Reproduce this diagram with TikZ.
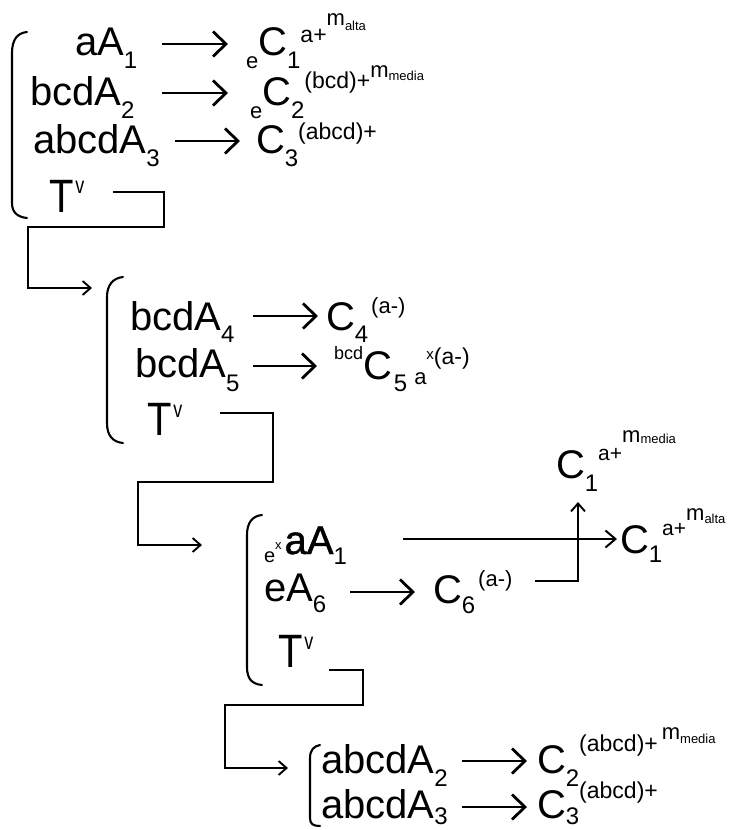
\documentclass[tikz,border=0pt]{standalone}
\usepackage{fontspec}
\usepackage{graphicx}
\setmainfont{Liberation Sans}
\newfontface\fbold[FakeBold=1.2]{Liberation Sans}
\usetikzlibrary{arrows.meta}
\newcommand{\rs}[3]{\raisebox{#1pt}{\fontsize{#2pt}{#2pt}\selectfont #3}}
\newcommand{\tallT}{\scalebox{1}[1.17]{T}}
\newcommand{\tallv}[1]{\raisebox{#1pt}{\fontsize{18pt}{18pt}\selectfont\scalebox{1}[1.3]{v}}}
\tikzset{
  txt/.style={inner sep=0pt, outer sep=0pt, anchor=base west, font=\fontsize{40pt}{40pt}\selectfont},
  bigarr/.style={line width=2.8pt, -{Straight Barb[length=13pt,width=25pt]}},
  thinarr/.style={line width=2pt, -{Straight Barb[length=10pt,width=17pt]}},
  connarr/.style={line width=1.9pt, -{Straight Barb[length=8pt,width=14pt]}},
  brack/.style={line width=2.1pt, line cap=round}
}
\begin{document}
\begin{tikzpicture}[x=1pt,y=-1pt]
\useasboundingbox (0,0) rectangle (729,830);
% ---------- block 1
\draw[brack] (27,32) .. controls (17,33) and (12,40) .. (12,53) -- (12,203) .. controls (12,212) and (17,217) .. (27,218);
\node[txt] (a1) at (75,55) {aA\rs{-13}{24}{1}};
\node[txt] (c1) at (246,55) {\rs{-13}{22}{e}C\rs{-13}{24}{1}\rs{13}{23}{a+}\rs{30}{22}{m}\rs{25}{13}{alta}};
\node[txt] (a2) at (30,105) {bcdA\rs{-13}{24}{2}};
\node[txt] (c2) at (250,105) {\rs{-13}{22}{e}C\rs{-13}{24}{2}\rs{17}{23}{(bcd)+}\rs{28}{22}{m}\rs{25}{13}{media}};
\node[txt] (a3) at (33,153) {abcdA\rs{-13}{24}{3}};
\node[txt] (c3) at (256,153) {C\rs{-13}{24}{3}\rs{14}{23}{(abcd)+}};
\node[txt] (t1) at (49,212) {\tallT\kern2pt\tallv{19}};
\draw[bigarr] ([shift={(87,-11)}]a1.base west) -- ([shift={(-18,-11)}]c1.base west);
\draw[bigarr] ([shift={(132,-12)}]a2.base west) -- ([shift={(-22,-12)}]c2.base west);
\draw[bigarr] ([shift={(142,-12)}]a3.base west) -- ([shift={(-16,-12)}]c3.base west);
\coordinate (in2) at (92,288);
\draw[connarr] ([shift={(64,-20)}]t1.base west) -- ++(51,0) -- ++(0,35) -- ++(-136,0) -- ++(0,61) -- (in2);
% ---------- block 2
\draw[brack] (123,277) .. controls (113,278) and (107,285) .. (107,297) -- (107,423) .. controls (107,436) and (113,442) .. (123,443);
\node[txt] (a4) at (130,330) {bcdA\rs{-12}{24}{4}};
\node[txt] (c4) at (326,330) {C\rs{-12}{24}{4}\kern3pt\rs{17}{22}{(a-)}};
\node[txt] (a5) at (135,377) {bcdA\rs{-14}{24}{5}};
\node[txt] (c5) at (334,379) {\rs{20}{18}{bcd}C\kern2pt\rs{-12}{24}{5}\kern7pt\rs{-5}{22}{a}\rs{20}{15}{x}\rs{15}{23}{(a-)}};
\node[txt] (t2) at (147,435) {\tallT\kern2pt\tallv{18}};
\draw[bigarr] ([shift={(123,-14)}]a4.base west) -- ([shift={(-8,-14)}]c4.base west);
\draw[bigarr] ([shift={(118,-11)}]a5.base west) -- ([shift={(-17,-13)}]c5.base west);
\coordinate (in3) at (202,545);
\draw[connarr] ([shift={(73,-22)}]t2.base west) -- ++(53,0) -- ++(0,69) -- ++(-135,0) -- ++(0,63) -- (in3);
% ---------- block 3
\draw[brack] (262,515) .. controls (252,516) and (247,523) .. (247,535) -- (247,667) .. controls (247,679) and (252,684) .. (262,685);
\node[txt] (b1) at (264,554) {\rs{-8}{20}{e}\rs{5}{13}{x}\kern3pt{\fbold aA}\rs{-10}{24}{1}};
\node[txt] (b2) at (264,601) {eA\rs{-11}{24}{6}};
\node[txt] (c6) at (433,603) {C\rs{-10}{24}{6}\kern3pt\rs{17}{22}{(a-)}};
\node[txt] (t3) at (278,667) {\tallT\kern2pt\tallv{18}};
\node[txt] (cu) at (556,478) {C\rs{-13}{24}{1}\rs{18}{21}{a+}\rs{36}{22}{m}\rs{35}{13}{media}};
\node[txt] (cr) at (620,553) {C\rs{-9}{24}{1}\rs{18}{21}{a+}\rs{33}{22}{m}\rs{30}{13}{alta}};
\draw[thinarr] ([shift={(139,-15)}]b1.base west) -- ([shift={(-3,-14)}]cr.base west);
\draw[bigarr] ([shift={(86,-9)}]b2.base west) -- ([shift={(-18,-11)}]c6.base west);
\draw[connarr] ([shift={(102,-22)}]c6.base west) -| ([shift={(22,24)}]cu.base west);
\coordinate (in4) at (288,768);
\draw[connarr] ([shift={(51,3)}]t3.base west) -- ++(34,0) -- ++(0,35) -- ++(-138,0) -- ++(0,63) -- (in4);
% ---------- block 4
\draw[brack] (320,745) .. controls (314,746) and (310,750) .. (310,758) -- (310,818) .. controls (310,824) and (313,826) .. (320,826);
\node[txt] (d1) at (321,773) {abcdA\rs{-13}{24}{2}};
\node[txt] (e1) at (537,773) {C\rs{-13}{24}{2}\rs{22}{23}{(abcd)+}\kern4pt\rs{34}{22}{m}\rs{30}{13}{media}};
\node[txt] (d2) at (321,818) {abcdA\rs{-6}{24}{3}};
\node[txt] (e2) at (537,818) {C\rs{-6}{24}{3}\rs{20}{23}{(abcd)+}};
\draw[bigarr] ([shift={(141,-12)}]d1.base west) -- ([shift={(-10,-12)}]e1.base west);
\draw[bigarr] ([shift={(141,-11)}]d2.base west) -- ([shift={(-10,-11)}]e2.base west);
\end{tikzpicture}
\end{document}
